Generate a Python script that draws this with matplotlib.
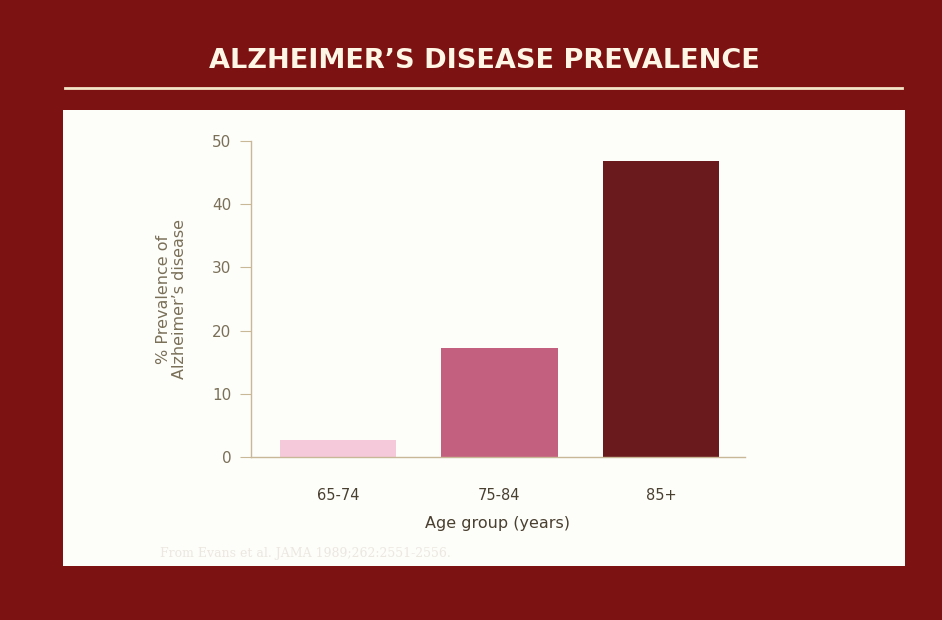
import matplotlib
matplotlib.use("Agg")
import matplotlib.pyplot as plt
from matplotlib.patches import Rectangle

categories = ["65-74", "75-84", "85+"]
values = [2.7, 17.2, 46.8]
yticks = [0, 10, 20, 30, 40, 50]
colors = ["#f5c9da", "#c4607f", "#6a1a1c"]

W, H = 942, 620
fig = plt.figure(figsize=(W/100, H/100), dpi=100)
fig.patch.set_facecolor("#7c1212")

bg = fig.add_axes([0, 0, 1, 1], zorder=-5)
bg.set_xlim(0, W); bg.set_ylim(H, 0); bg.axis("off")
bg.add_patch(Rectangle((63, 110), 905-63, 566-110, facecolor="#fdfdfa", edgecolor="none"))
bg.plot([65, 902], [88, 88], color="#f3e6c8", lw=2)
bg.text(484, 61, "ALZHEIMER’S DISEASE PREVALENCE", ha="center", va="center",
        color="#fff6e6", fontsize=19.5, fontweight="bold", family="DejaVu Sans")
bg.text(160, 553, "From Evans et al. JAMA 1989;262:2551-2556.", fontsize=9,
        color="#ece8e0", family="DejaVu Serif", va="center")

ax = fig.add_axes([251/W, 1-457/H, (745-251)/W, (457-141)/H], zorder=1)
ax.set_facecolor("none")
x = list(range(len(categories)))
ax.bar(x, values, width=0.72, color=colors)
ax.set_xlim(-0.537, 2.52)
ax.set_ylim(0, 50)
ax.set_yticks(yticks)
ax.set_xticks(x)
ax.set_xticklabels(categories)
tc = "#7a7058"
for s in ["top", "right"]:
    ax.spines[s].set_visible(False)
for s in ["left", "bottom"]:
    ax.spines[s].set_color("#c8b898")
    ax.spines[s].set_linewidth(1)
ax.tick_params(axis="y", colors="#c8b898", labelcolor=tc, labelsize=11, length=8, pad=6)
ax.tick_params(axis="x", length=0, labelcolor="#4a4030", labelsize=10.5, pad=22)
ax.set_xlabel("Age group (years)", fontsize=11.5, color="#4a4030", labelpad=10)
ax.set_ylabel("% Prevalence of\nAlzheimer’s disease", fontsize=11.5, color="#7a7058",
              labelpad=18, linespacing=1.1)
fig.savefig("out.png", dpi=100, facecolor=fig.get_facecolor())
